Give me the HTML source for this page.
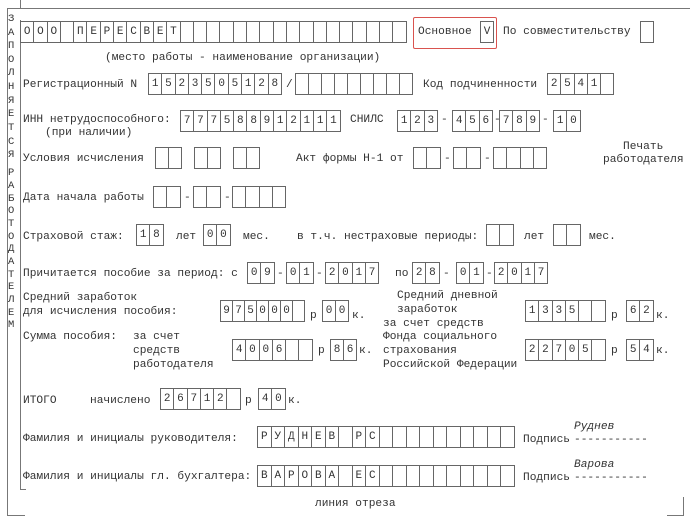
<!DOCTYPE html>
<html><head><meta charset="utf-8">
<style>
body{margin:0;width:700px;height:524px;background:#fff;position:relative;overflow:hidden;font-family:"Liberation Mono","DejaVu Sans Mono",monospace;font-size:11.2px;color:#333}
.t{position:absolute;white-space:nowrap;line-height:13px}
.b{position:absolute;display:flex;height:22px;border:1px solid #666;border-right:none;box-sizing:border-box}
.b span{box-sizing:border-box;width:var(--w,12.3px);border-right:1px solid #666;text-align:center;line-height:20px;font-size:11px;flex:none}
.l{position:absolute;background:#777}
.v{position:absolute;left:8px;font-size:10.5px;line-height:13px}
</style></head><body>
<div class="l" style="left:20px;top:0;width:1px;height:8px"></div>
<div class="l" style="left:7px;top:8px;width:683px;height:1px"></div>
<div class="l" style="left:7px;top:8px;width:1px;height:507px"></div>
<div class="l" style="left:7px;top:515px;width:18px;height:1px"></div>
<div class="l" style="left:20px;top:20px;width:1px;height:469px"></div>
<div class="l" style="left:20px;top:489px;width:6px;height:1px"></div>
<div class="l" style="left:683px;top:497px;width:1px;height:18px"></div>
<div class="l" style="left:667px;top:515px;width:17px;height:1px"></div>

<div class="v" style="top:13px">З</div><div class="v" style="top:27px">А</div><div class="v" style="top:40px">П</div><div class="v" style="top:54px">О</div><div class="v" style="top:67px">Л</div><div class="v" style="top:81px">Н</div><div class="v" style="top:95px">Я</div><div class="v" style="top:108px">Е</div><div class="v" style="top:122px">Т</div><div class="v" style="top:136px">С</div><div class="v" style="top:149px">Я</div>
<div class="v" style="top:167px">Р</div><div class="v" style="top:180px">А</div><div class="v" style="top:193px">Б</div><div class="v" style="top:205px">О</div><div class="v" style="top:218px">Т</div><div class="v" style="top:231px">О</div><div class="v" style="top:243px">Д</div><div class="v" style="top:256px">А</div><div class="v" style="top:269px">Т</div><div class="v" style="top:281px">Е</div><div class="v" style="top:294px">Л</div><div class="v" style="top:307px">Е</div><div class="v" style="top:319px">М</div>

<div class="b" style="left:20px;top:21px;--w:13.3px"><span>О</span><span>О</span><span>О</span><span></span><span>П</span><span>Е</span><span>Р</span><span>Е</span><span>С</span><span>В</span><span>Е</span><span>Т</span><span></span><span></span><span></span><span></span><span></span><span></span><span></span><span></span><span></span><span></span><span></span><span></span><span></span><span></span><span></span><span></span><span></span></div>
<div style="position:absolute;left:413px;top:17px;width:82px;height:30px;border:1.5px solid #d9534f;border-radius:2px"></div>
<div class="t" style="left:418px;top:26px">Основное</div>
<div class="b" style="left:480px;top:21px;--w:13px"><span>V</span></div>
<div class="t" style="left:503px;top:26px">По совместительству</div>
<div class="b" style="left:640px;top:21px;--w:13px"><span></span></div>
<div class="t" style="left:105px;top:52px">(место работы - наименование организации)</div>

<div class="t" style="left:23px;top:79px">Регистрационный N</div>
<div class="b" style="left:148px;top:73px;--w:13.3px"><span>1</span><span>5</span><span>2</span><span>3</span><span>5</span><span>0</span><span>5</span><span>1</span><span>2</span><span>8</span></div>
<div class="t" style="left:286px;top:79px">/</div>
<div class="b" style="left:295px;top:73px;--w:13px"><span></span><span></span><span></span><span></span><span></span><span></span><span></span><span></span><span></span></div>
<div class="t" style="left:423px;top:79px">Код подчиненности</div>
<div class="b" style="left:547px;top:73px;--w:13.3px"><span>2</span><span>5</span><span>4</span><span>1</span><span></span></div>

<div class="t" style="left:23px;top:114px">ИНН нетрудоспособного:</div>
<div class="t" style="left:45px;top:127px">(при наличии)</div>
<div class="b" style="left:180px;top:110px;--w:13.3px"><span>7</span><span>7</span><span>7</span><span>5</span><span>8</span><span>8</span><span>9</span><span>1</span><span>2</span><span>1</span><span>1</span><span>1</span></div>
<div class="t" style="left:350px;top:114px">СНИЛС</div>
<div class="b" style="left:397px;top:110px;--w:13.3px"><span>1</span><span>2</span><span>3</span></div>
<div class="t" style="left:441px;top:114px">-</div>
<div class="b" style="left:452px;top:110px;--w:13.3px"><span>4</span><span>5</span><span>6</span></div>
<div class="t" style="left:494px;top:114px">-</div>
<div class="b" style="left:499px;top:110px;--w:13.3px"><span>7</span><span>8</span><span>9</span></div>
<div class="t" style="left:542px;top:114px">-</div>
<div class="b" style="left:553px;top:110px;--w:13.3px"><span>1</span><span>0</span></div>

<div class="t" style="left:23px;top:153px">Условия исчисления</div>
<div class="b" style="left:155px;top:147px;--w:13px"><span></span><span></span></div>
<div class="b" style="left:194px;top:147px;--w:13px"><span></span><span></span></div>
<div class="b" style="left:233px;top:147px;--w:13px"><span></span><span></span></div>
<div class="t" style="left:296px;top:153px">Акт формы Н-1 от</div>
<div class="b" style="left:413px;top:147px;--w:13.3px"><span></span><span></span></div>
<div class="t" style="left:444px;top:153px">-</div>
<div class="b" style="left:453px;top:147px;--w:13.3px"><span></span><span></span></div>
<div class="t" style="left:484px;top:153px">-</div>
<div class="b" style="left:493px;top:147px;--w:13.3px"><span></span><span></span><span></span><span></span></div>
<div class="t" style="left:623px;top:141px">Печать</div>
<div class="t" style="left:603px;top:154px">работодателя</div>

<div class="t" style="left:23px;top:192px">Дата начала работы</div>
<div class="b" style="left:153px;top:186px;--w:13.3px"><span></span><span></span></div>
<div class="t" style="left:184px;top:192px">-</div>
<div class="b" style="left:193px;top:186px;--w:13.3px"><span></span><span></span></div>
<div class="t" style="left:224px;top:192px">-</div>
<div class="b" style="left:232px;top:186px;--w:13.3px"><span></span><span></span><span></span><span></span></div>

<div class="t" style="left:23px;top:231px">Страховой стаж:</div>
<div class="b" style="left:136px;top:224px;--w:13.3px"><span>1</span><span>8</span></div>
<div class="t" style="left:176px;top:231px">лет</div>
<div class="b" style="left:203px;top:224px;--w:13.3px"><span>0</span><span>0</span></div>
<div class="t" style="left:243px;top:231px">мес.</div>
<div class="t" style="left:297px;top:231px">в т.ч. нестраховые периоды:</div>
<div class="b" style="left:486px;top:224px;--w:13.3px"><span></span><span></span></div>
<div class="t" style="left:524px;top:231px">лет</div>
<div class="b" style="left:553px;top:224px;--w:13.3px"><span></span><span></span></div>
<div class="t" style="left:589px;top:231px">мес.</div>

<div class="t" style="left:23px;top:268px">Причитается пособие за период: с</div>
<div class="b" style="left:247px;top:262px;--w:13.3px"><span>0</span><span>9</span></div>
<div class="t" style="left:277px;top:268px">-</div>
<div class="b" style="left:286px;top:262px;--w:13.3px"><span>0</span><span>1</span></div>
<div class="t" style="left:316px;top:268px">-</div>
<div class="b" style="left:325px;top:262px;--w:13.3px"><span>2</span><span>0</span><span>1</span><span>7</span></div>
<div class="t" style="left:395px;top:268px">по</div>
<div class="b" style="left:412px;top:262px;--w:13.3px"><span>2</span><span>8</span></div>
<div class="t" style="left:443px;top:268px">-</div>
<div class="b" style="left:456px;top:262px;--w:13.3px"><span>0</span><span>1</span></div>
<div class="t" style="left:486px;top:268px">-</div>
<div class="b" style="left:494px;top:262px;--w:13.3px"><span>2</span><span>0</span><span>1</span><span>7</span></div>

<div class="t" style="left:23px;top:292px">Средний заработок</div>
<div class="t" style="left:23px;top:306px">для исчисления пособия:</div>
<div class="b" style="left:220px;top:300px;--w:12px"><span>9</span><span>7</span><span>5</span><span>0</span><span>0</span><span>0</span><span></span></div>
<div class="t" style="left:310px;top:310px">р</div>
<div class="b" style="left:322px;top:300px;--w:13px"><span>0</span><span>0</span></div>
<div class="t" style="left:352px;top:310px">к.</div>
<div class="t" style="left:397px;top:290px">Средний дневной</div>
<div class="t" style="left:397px;top:304px">заработок</div>
<div class="b" style="left:525px;top:300px;--w:13.3px"><span>1</span><span>3</span><span>3</span><span>5</span><span></span><span></span></div>
<div class="t" style="left:611px;top:310px">р</div>
<div class="b" style="left:626px;top:300px;--w:13.3px"><span>6</span><span>2</span></div>
<div class="t" style="left:656px;top:310px">к.</div>

<div class="t" style="left:23px;top:331px">Сумма пособия:</div>
<div class="t" style="left:133px;top:331px">за счет</div>
<div class="t" style="left:133px;top:345px">средств</div>
<div class="t" style="left:133px;top:359px">работодателя</div>
<div class="b" style="left:232px;top:339px;--w:13.3px"><span>4</span><span>0</span><span>0</span><span>6</span><span></span><span></span></div>
<div class="t" style="left:318px;top:345px">р</div>
<div class="b" style="left:330px;top:339px;--w:13px"><span>8</span><span>6</span></div>
<div class="t" style="left:359px;top:345px">к.</div>
<div class="t" style="left:383px;top:318px">за счет средств</div>
<div class="t" style="left:383px;top:331px">Фонда социального</div>
<div class="t" style="left:383px;top:345px">страхования</div>
<div class="t" style="left:383px;top:359px">Российской Федерации</div>
<div class="b" style="left:525px;top:339px;--w:13.3px"><span>2</span><span>2</span><span>7</span><span>0</span><span>5</span><span></span></div>
<div class="t" style="left:611px;top:345px">р</div>
<div class="b" style="left:626px;top:339px;--w:13.3px"><span>5</span><span>4</span></div>
<div class="t" style="left:656px;top:345px">к.</div>

<div class="t" style="left:23px;top:395px">ИТОГО</div>
<div class="t" style="left:90px;top:395px">начислено</div>
<div class="b" style="left:160px;top:388px;--w:13.3px"><span>2</span><span>6</span><span>7</span><span>1</span><span>2</span><span></span></div>
<div class="t" style="left:245px;top:395px">р</div>
<div class="b" style="left:258px;top:388px;--w:13.3px"><span>4</span><span>0</span></div>
<div class="t" style="left:288px;top:395px">к.</div>

<div class="t" style="left:23px;top:433px">Фамилия и инициалы руководителя:</div>
<div class="b" style="left:257px;top:426px;--w:13.5px"><span>Р</span><span>У</span><span>Д</span><span>Н</span><span>Е</span><span>В</span><span></span><span>Р</span><span>С</span><span></span><span></span><span></span><span></span><span></span><span></span><span></span><span></span><span></span><span></span></div>
<div class="t" style="left:523px;top:434px">Подпись</div>
<div class="t" style="left:574px;top:421px;font-style:italic">Руднев</div>
<div class="t" style="left:574px;top:434px">-----------</div>

<div class="t" style="left:23px;top:471px">Фамилия и инициалы гл. бухгалтера:</div>
<div class="b" style="left:257px;top:465px;--w:13.5px"><span>В</span><span>А</span><span>Р</span><span>О</span><span>В</span><span>А</span><span></span><span>Е</span><span>С</span><span></span><span></span><span></span><span></span><span></span><span></span><span></span><span></span><span></span><span></span></div>
<div class="t" style="left:523px;top:472px">Подпись</div>
<div class="t" style="left:574px;top:459px;font-style:italic">Варова</div>
<div class="t" style="left:574px;top:472px">-----------</div>

<div class="t" style="left:315px;top:498px">линия отреза</div>
</body></html>
